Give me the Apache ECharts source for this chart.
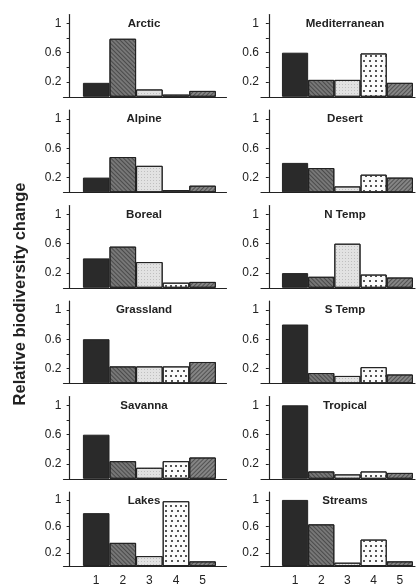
<!DOCTYPE html>
<html>
<head>
<meta charset="utf-8">
<script src="https://cdn.jsdelivr.net/npm/echarts@6/dist/echarts.min.js"></script>
<style>
html,body{margin:0;padding:0;background:#fff;}
#c{width:416px;height:587px;}
</style>
</head>
<body>
<div id="c"></div>
<script>
// ---- data ----
const categories = ['1', '2', '3', '4', '5'];
const yTickLabels = [0.2, 0.6, 1];
const yTicks = [0, 0.2, 0.4, 0.6, 0.8, 1];
const leftTitles = ['Arctic', 'Alpine', 'Boreal', 'Grassland', 'Savanna', 'Lakes'];
const rightTitles = ['Mediterranean', 'Desert', 'N Temp', 'S Temp', 'Tropical', 'Streams'];
const arctic = [0.19, 0.79, 0.10, 0.03, 0.08];
const alpine = [0.20, 0.48, 0.36, 0.03, 0.09];
const boreal = [0.40, 0.56, 0.35, 0.07, 0.08];
const grassland = [0.60, 0.23, 0.23, 0.23, 0.29];
const savanna = [0.60, 0.24, 0.15, 0.24, 0.29];
const lakes = [0.80, 0.35, 0.15, 0.98, 0.07];
const mediterranean = [0.60, 0.23, 0.23, 0.59, 0.19];
const desert = [0.40, 0.33, 0.08, 0.24, 0.20];
const nTemp = [0.20, 0.15, 0.60, 0.18, 0.14];
const sTemp = [0.80, 0.14, 0.10, 0.22, 0.12];
const tropical = [1.00, 0.10, 0.06, 0.10, 0.08];
const streams = [1.00, 0.63, 0.05, 0.40, 0.07];
const yTitle = 'Relative biodiversity change';

const leftValues = [arctic, alpine, boreal, grassland, savanna, lakes];
const rightValues = [mediterranean, desert, nTemp, sTemp, tropical, streams];

// ---- styles ----
const barStyles = [
  { color: '#2a2a2a' },
  { color: '#777777', decal: { symbol: 'rect', symbolSize: 1, color: 'rgba(30,30,30,0.5)', dashArrayX: [1, 0], dashArrayY: [1, 1.5], rotation: Math.PI / 4 } },
  { color: '#e2e2e2', decal: { symbol: 'circle', symbolSize: 0.9, color: '#9a9a9a', dashArrayX: [[1, 1.5]], dashArrayY: [1, 1.5] } },
  { color: '#fbfbfb', decal: { symbol: 'rect', symbolSize: 1, color: '#555', dashArrayX: [[2, 3], [0, 2.5, 2, 0.5]], dashArrayY: [1.3, 2.7] } },
  { color: '#858585', decal: { symbol: 'rect', symbolSize: 1, color: 'rgba(30,30,30,0.5)', dashArrayX: [1, 0], dashArrayY: [1, 1.5], rotation: -Math.PI / 4 } }
];
const FONT = '"Liberation Sans", Arial, Helvetica, sans-serif';
const ink = '#222';

const cols = [
  { names: leftTitles, vals: leftValues, left: 63.5, width: 163, min: -0.23, max: 5.9, bw: 26.6, tx: 144 },
  { names: rightTitles, vals: rightValues, left: 261, width: 154, min: -0.3, max: 5.58, bw: 26.2, tx: 345 }
];

const grids = [], xAxes = [], yAxes = [], series = [], titles = [];
const YMAX = 1.12, UNIT = 73.5;
let gi = 0;
cols.forEach((col, c) => {
  for (let r = 0; r < 6; r++) {
    const zero = 96.8 + 95.5 * r;
    const h = YMAX * UNIT;
    grids.push({ left: col.left, top: zero - h, width: col.width, height: h, containLabel: false });
    xAxes.push({
      type: 'value', gridIndex: gi, min: col.min, max: col.max,
      axisLine: { show: true, onZero: false, lineStyle: { color: ink, width: 1.2 } },
      axisTick: { show: false },
      splitLine: { show: false },
      axisLabel: {
        show: r === 5, customValues: [1, 2, 3, 4, 5],
        formatter: v => categories[Math.round(v) - 1] || '',
        color: ink, fontSize: 12, fontFamily: FONT, margin: 9
      }
    });
    yAxes.push({
      type: 'value', gridIndex: gi, min: 0, max: YMAX,
      axisLine: { show: true, lineStyle: { color: ink, width: 1.2 } },
      axisTick: { show: true, customValues: yTicks, length: 3, lineStyle: { color: ink, width: 1 } },
      splitLine: { show: false },
      axisLabel: {
        show: true, customValues: yTickLabels,
        formatter: v => (Math.abs(v - 1) < 1e-6 ? '1' : String(+v.toFixed(1))),
        color: ink, fontSize: 12, fontFamily: FONT, margin: 2
      }
    });
    series.push({
      type: 'bar', xAxisIndex: gi, yAxisIndex: gi, barWidth: col.bw,
      silent: true, animation: false,
      data: col.vals[r].map((v, i) => ({
        value: [i + 1, v],
        itemStyle: Object.assign({ borderColor: ink, borderWidth: 1 }, barStyles[i])
      }))
    });
    titles.push({ text: col.names[r], x: col.tx, y: zero - 73 });
    gi++;
  }
});

const chart = echarts.init(document.getElementById('c'), null, { renderer: 'canvas' });
chart.setOption({
  backgroundColor: '#fff',
  animation: false,
  grid: grids, xAxis: xAxes, yAxis: yAxes, series: series,
  graphic: [
    ...titles.map(t => ({
      type: 'text', x: t.x, y: t.y,
      style: { text: t.text, font: 'bold 11.5px ' + FONT, fill: ink, align: 'center', verticalAlign: 'middle' }
    })),
    {
      type: 'text', x: 20, y: 294, rotation: Math.PI / 2,
      style: { text: yTitle, font: 'bold 16.5px ' + FONT, fill: ink, align: 'center', verticalAlign: 'middle' }
    }
  ]
});
</script>
</body>
</html>
